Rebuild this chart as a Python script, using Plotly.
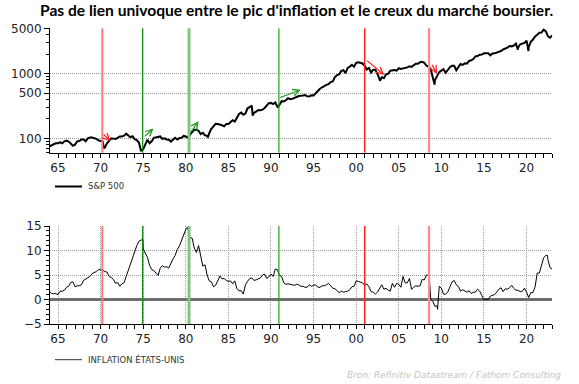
import numpy as np
import plotly.graph_objects as go

# ---------------- data ----------------
SP_START = 1964.0
SP_STEP = 0.25
sp500_quarterly = [
    75, 79, 81, 84,
    84, 87, 84, 90,
    92, 89, 84, 77,
    80, 90, 91, 96,
    96, 90, 100, 103,
    103, 101, 98, 93,
    92, 89, 72, 84,
    92, 100, 99, 98,
    102, 107, 107, 110,
    118, 112, 104, 108,
    97, 94, 86, 64,
    68, 83, 95, 84,
    90, 102, 104, 105,
    107, 98, 100, 96,
    95, 89, 95, 102,
    96, 101, 102, 109,
    107, 102, 114, 125,
    136, 136, 131, 116,
    122, 111, 110, 120,
    140, 153, 168, 166,
    164, 159, 153, 166,
    167, 180, 191, 182,
    211, 238, 250, 231,
    242, 291, 304, 321,
    247, 258, 273, 271,
    277, 294, 317, 349,
    353, 339, 358, 306,
    330, 375, 371, 387,
    417, 403, 408, 417,
    435, 451, 450, 458,
    466, 445, 444, 462,
    459, 500, 544, 584,
    615, 645, 670, 687,
    740, 757, 885, 947,
    970, 1101, 1133, 1017,
    1229, 1286, 1372, 1282,
    1469, 1498, 1454, 1436,
    1320, 1160, 1224, 1040,
    1148, 1147, 989, 815,
    880, 848, 975, 995,
    1111, 1126, 1140, 1114,
    1211, 1180, 1191, 1228,
    1248, 1294, 1270, 1335,
    1418, 1420, 1503, 1526,
    1468, 1322, 1280, 1166,
    903, 797, 919, 1057,
    1115, 1169, 1030, 1141,
    1257, 1325, 1320, 1131,
    1257, 1408, 1362, 1440,
    1426, 1569, 1606, 1681,
    1848, 1872, 1960, 1972,
    2058, 2067, 2063, 1920,
    2043, 2059, 2098, 2168,
    2238, 2362, 2423, 2519,
    2673, 2640, 2718, 2913,
    2506, 2834, 2941, 2976,
    3230, 2584, 3100, 3363,
    3756, 3972, 4297, 4307,
    4766, 4530, 3785, 3585,
    3900,
]
# intra-quarter extremes
sp500_extreme_dates = [1970.4, 1974.75, 1982.6, 1987.85, 1990.8, 2002.8, 2009.2, 2018.98, 2020.22, 2022.0]
sp500_extreme_values = [70, 63, 103, 225, 300, 777, 677, 2350, 2237, 4790]

CPI_START = 1964.0
CPI_STEP = 0.25
inflation_quarterly = [
    1.6, 1.2, 1.2, 1.2,
    1.0, 1.7, 1.7, 1.9,
    2.5, 2.7, 3.5, 3.6,
    2.6, 2.8, 2.8, 3.0,
    3.9, 4.2, 4.4, 4.7,
    5.3, 5.5, 5.7, 6.1,
    6.1, 6.0, 5.7, 5.6,
    4.7, 4.5, 4.1, 3.3,
    3.5, 2.7, 3.2, 3.4,
    4.7, 6.0, 7.4, 8.7,
    10.0, 11.0, 11.9, 12.2,
    10.3, 9.4, 8.6, 7.0,
    6.1, 5.9, 5.5, 4.9,
    6.4, 6.9, 6.6, 6.7,
    6.4, 7.4, 8.3, 9.0,
    10.2, 10.9, 12.1, 13.3,
    14.3, 14.4, 12.6, 12.5,
    10.5, 9.6, 11.0, 8.9,
    6.8, 7.1, 5.0, 3.8,
    3.6, 2.6, 2.9, 3.8,
    4.8, 4.2, 4.3, 3.9,
    3.7, 3.8, 3.2, 3.8,
    2.2, 1.8, 1.8, 1.1,
    3.0, 3.7, 4.3, 4.4,
    3.9, 4.0, 4.2, 4.4,
    5.0, 5.2, 4.3, 4.6,
    5.2, 4.7, 6.2, 6.1,
    4.9, 4.7, 3.4, 3.1,
    3.2, 3.1, 3.0, 2.9,
    3.1, 3.0, 2.7, 2.7,
    2.5, 2.5, 3.0, 2.7,
    2.9, 3.0, 2.5, 2.5,
    2.8, 2.8, 3.0, 3.3,
    2.8, 2.3, 2.2, 1.7,
    1.4, 1.7, 1.5, 1.6,
    1.7, 2.0, 2.6, 2.7,
    3.8, 3.7, 3.5, 3.4,
    2.9, 3.2, 2.6, 1.6,
    1.5, 1.1, 1.5, 2.4,
    3.0, 2.1, 2.3, 1.9,
    1.7, 3.3, 2.5, 3.3,
    3.1, 2.5, 4.7, 3.4,
    3.4, 4.3, 2.1, 2.5,
    2.8, 2.7, 2.8, 4.1,
    4.0, 5.0, 4.9, 0.1,
    -0.4, -1.4, -1.3, 2.7,
    2.3, 1.1, 1.1, 1.5,
    2.7, 3.6, 3.9, 3.0,
    2.7, 1.7, 2.0, 1.7,
    1.5, 1.8, 1.2, 1.5,
    1.5, 2.1, 1.7, 0.8,
    -0.1, 0.1, 0.0, 0.7,
    0.9, 1.0, 1.5, 2.1,
    2.4, 1.6, 2.2, 2.1,
    2.4, 2.9, 2.3, 1.9,
    1.9, 1.6, 1.7, 2.3,
    1.5, 0.4, 1.4, 1.4,
    2.6, 5.4, 5.4, 7.0,
    8.5, 9.0, 8.2, 6.5,
    6.2,
]
inflation_extreme_dates = [1974.95, 1980.2, 2008.55, 2009.55, 2022.45]
inflation_extreme_values = [12.3, 14.8, 5.5, -2.0, 9.0]

# event lines (decimal years) and style keys
event_dates = [1970.2, 1974.94, 1980.38, 1990.93, 2001.0, 2008.55]
event_colors = ["#ff7a7a", "#008000", "#80c480", "#1aa31a", "#ff2020", "#ff8a8a"]
event_widths = [2, 1.2, 3, 1.2, 1.5, 2.2]

# arrows on the S&P panel: start (x0, y0) -> end (x1, y1)
arrow_x0 = [1970.2, 1975.0, 1980.4, 1990.9, 2001.1, 2008.8]
arrow_y0 = [119, 102, 115, 420, 1660, 1440]
arrow_x1 = [1971.2, 1976.2, 1981.5, 1993.5, 2003.3, 2009.5]
arrow_y1 = [91, 142, 184, 562, 955, 990]
arrow_colors = ["#ff2020", "#1a9a1a", "#1a9a1a", "#1a9a1a", "#ff2020", "#ff2020"]

x_tick_years = [1965, 1970, 1975, 1980, 1985, 1990, 1995, 2000, 2005, 2010, 2015, 2020]
x_tick_labels = ["65", "70", "75", "80", "85", "90", "95", "00", "05", "10", "15", "20"]
sp_tick_vals = [100, 500, 1000, 5000]
sp_tick_labels = ["100", "500", "1000", "5000"]
sp_minor_vals = [60, 70, 80, 90, 200, 300, 400, 600, 700, 800, 900, 2000, 3000, 4000]
cpi_tick_vals = [-5, 0, 5, 10, 15]

# ---------------- build series ----------------
def merge(start, step, vals, xd, xv):
    t = list(start + step * np.arange(len(vals)))
    pts = sorted(zip(t + list(xd), list(vals) + list(xv)))
    return [p[0] for p in pts], [p[1] for p in pts]

sp_t, sp_v = merge(SP_START, SP_STEP, sp500_quarterly, sp500_extreme_dates, sp500_extreme_values)
cpi_t, cpi_v = merge(CPI_START, CPI_STEP, inflation_quarterly, inflation_extreme_dates, inflation_extreme_values)

W, H = 579, 384
XL, XR = 50, 552.3
def px(xp):
    return xp / W
def py(yp):
    return 1 - yp / H

fig = go.Figure()
fig.add_trace(go.Scatter(x=sp_t, y=sp_v, mode="lines", line=dict(color="black", width=2),
                         xaxis="x", yaxis="y", showlegend=False))
fig.add_trace(go.Scatter(x=cpi_t, y=cpi_v, mode="lines", line=dict(color="black", width=1),
                         xaxis="x2", yaxis="y2", showlegend=False))

tickfont = dict(family="DejaVu Sans", size=12, color="#222222")
GRID = "#9a9a9a"
DOT = "1px,1px"
xrange = [1964.06, 2023.02]
common_x = dict(range=xrange, tickvals=x_tick_years, ticktext=x_tick_labels, showline=True,
                linecolor="black", linewidth=1, ticks="outside", ticklen=4, tickcolor="black",
                tickfont=tickfont, zeroline=False, automargin=False,
                minor=dict(dtick=1, tick0=1964, ticks="outside", ticklen=4, tickcolor="black", showgrid=False))

fig.update_layout(
    width=W, height=H, margin=dict(l=0, r=0, t=0, b=0, autoexpand=False),
    paper_bgcolor="white", plot_bgcolor="white",
    xaxis=dict(domain=[px(XL), px(XR)], anchor="y", showgrid=False, **common_x),
    yaxis=dict(domain=[py(152.7), py(28.3)], anchor="x", type="log", range=[1.778, 3.7005],
               tickvals=sp_tick_vals, ticktext=sp_tick_labels, showline=True, linecolor="black",
               linewidth=1, ticks="outside", ticklen=5, tickcolor="black", tickfont=tickfont,
               showgrid=True, gridcolor=GRID, griddash=DOT, gridwidth=1, zeroline=False, automargin=False,
               minor=dict(tickvals=sp_minor_vals, ticks="outside", ticklen=3, tickcolor="black", showgrid=False)),
    xaxis2=dict(domain=[px(XL), px(XR)], anchor="y2", showgrid=True, gridcolor=GRID,
                griddash=DOT, gridwidth=1, **common_x),
    yaxis2=dict(domain=[py(324), py(226)], anchor="x2", range=[-5, 15], tickvals=cpi_tick_vals,
                showline=True, linecolor="black", linewidth=1, ticks="outside", ticklen=5,
                tickcolor="black", tickfont=tickfont, showgrid=True, gridcolor=GRID,
                griddash=DOT, gridwidth=1, zeroline=True, zerolinecolor="#6e6e6e", zerolinewidth=2.5,
                automargin=False,
                minor=dict(dtick=1, ticks="outside", ticklen=3, tickcolor="black", showgrid=False)),
)

# event vertical lines on both panels
for d, c, w in zip(event_dates, event_colors, event_widths):
    for xr, yr in (("x", "y domain"), ("x2", "y2 domain")):
        fig.add_shape(type="line", xref=xr, yref=yr, x0=d, x1=d, y0=0, y1=1,
                      line=dict(color=c, width=w), layer="above")

# arrows
for x0, y0, x1, y1, c in zip(arrow_x0, arrow_y0, arrow_x1, arrow_y1, arrow_colors):
    fig.add_annotation(x=x1, y=np.log10(y1), ax=x0, ay=np.log10(y0), xref="x", yref="y",
                       axref="x", ayref="y", showarrow=True, arrowhead=5, arrowsize=1.1,
                       arrowwidth=1.2, arrowcolor=c, text="")

# title
fig.add_annotation(text="<b>Pas de lien univoque entre le pic d'inflation et le creux du marché boursier.</b>",
                   x=px(296), y=py(10), xref="paper", yref="paper", showarrow=False,
                   font=dict(family="Lato", size=15.6, color="black"), xanchor="center", yanchor="middle")

# legends
fig.add_shape(type="line", xref="paper", yref="paper", x0=px(55), x1=px(82), y0=py(186.5), y1=py(186.5),
              line=dict(color="black", width=2))
fig.add_annotation(text="S&P 500", x=px(86), y=py(186.5), xref="paper", yref="paper", showarrow=False,
                   xanchor="left", yanchor="middle", font=dict(family="DejaVu Sans", size=8.5, color="#333333"))
fig.add_shape(type="line", xref="paper", yref="paper", x0=px(55), x1=px(82), y0=py(359.7), y1=py(359.7),
              line=dict(color="#333333", width=1))
fig.add_annotation(text="INFLATION ÉTATS-UNIS", x=px(86), y=py(359.7), xref="paper", yref="paper",
                   showarrow=False, xanchor="left", yanchor="middle",
                   font=dict(family="DejaVu Sans", size=8.5, color="#333333"))

# source
fig.add_annotation(text="<i>Bron: Refinitiv Datastream / Fathom Consulting</i>", x=px(563), y=py(375),
                   xref="paper", yref="paper", showarrow=False, xanchor="right", yanchor="middle",
                   font=dict(family="DejaVu Sans", size=9, color="#c4c4c4"))

fig.write_html("out.html", config={"displayModeBar": False},
               post_script="document.body.style.margin='0';document.body.style.padding='0';")
